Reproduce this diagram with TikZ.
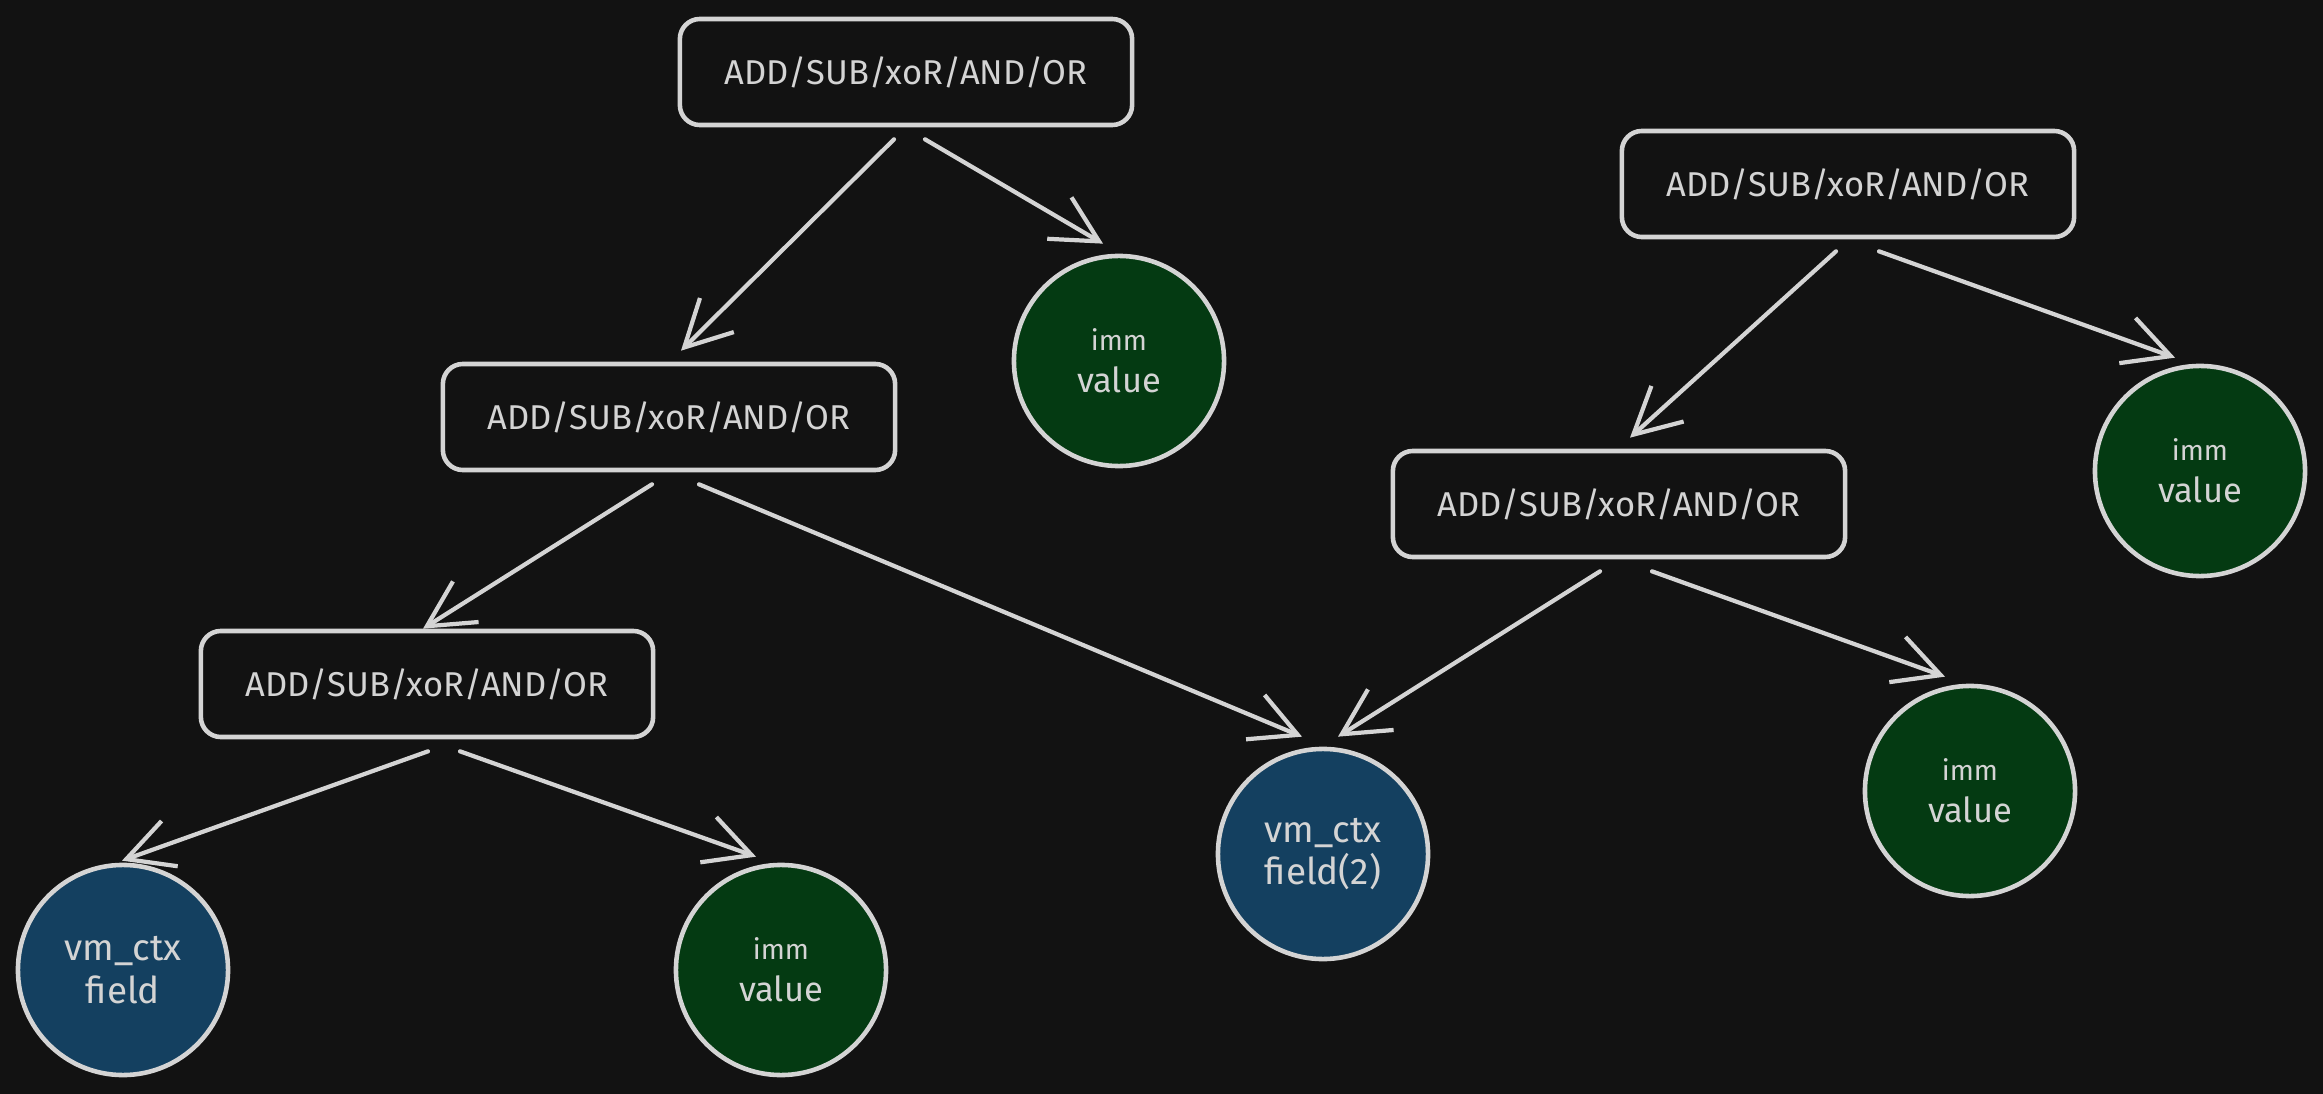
\documentclass[tikz,border=0pt]{standalone}
\usepackage{fontspec}
\setmainfont{Fira Sans}
\usetikzlibrary{arrows.meta,calc}
\definecolor{sfondo}{HTML}{121212}
\definecolor{tratto}{HTML}{D4D4D4}
\definecolor{verde}{HTML}{043A12}
\definecolor{blu}{HTML}{144060}

\begin{document}
\begin{tikzpicture}[x=0.01cm, y=-0.01cm, >={Straight Barb[length=0.46cm,width=0.48cm]},
        operazione/.style={draw=tratto, line width=1.3pt, rounded corners=0.2cm, minimum width=4.52cm, minimum height=1.06cm, inner sep=0pt, text=tratto, font=\fontsize{9.8}{12}\selectfont},
        valore/.style={circle, draw=tratto, fill=verde, line width=1.3pt, minimum size=2.1cm, inner sep=0pt, align=center, text=tratto, font=\fontsize{9.8}{12}\selectfont},
        campo/.style={valore, fill=blu, font=\fontsize{10.5}{12}\selectfont},
        freccia/.style={->, draw=tratto, line width=1.2pt, line cap=round}]
        % Sfondo
        \fill[sfondo] (0,0) rectangle (2323,1094);
        
        % Operazioni
        \node[operazione] (op1) at (906,72) {ADD/SUB/xoR/AND/OR};
        \node[operazione] (op2) at (1848,184) {ADD/SUB/xoR/AND/OR};
        \node[operazione] (op3) at (669,417) {ADD/SUB/xoR/AND/OR};
        \node[operazione] (op4) at (1619,504) {ADD/SUB/xoR/AND/OR};
        \node[operazione] (op5) at (427,684) {ADD/SUB/xoR/AND/OR};
        
        % Operandi
        \node[valore] (imm1) at (1119,361) {{\footnotesize imm}\\value};
        \node[valore] (imm2) at (2200,471) {{\footnotesize imm}\\value};
        \node[valore] (imm3) at (1970,791) {{\footnotesize imm}\\value};
        \node[valore] (imm4) at (781,970) {{\footnotesize imm}\\value};
        \node[campo] (ctx1) at (123,970) {vm\_ctx\\field};
        \node[campo] (ctx2) at (1323,854) {vm\_ctx\\field(2)};
        
        % Frecce
        \draw[freccia] ($(op1.south)+(-12,12)$) -- ($(op3.north)+(12,-11)$);
        \draw[freccia] ($(op1.south)+(19,12)$) -- ($(imm1.north)+(-16,-10)$);
        \draw[freccia] ($(op2.south)+(-12,12)$) -- ($(op4.north)+(11,-11)$);
        \draw[freccia] ($(op2.south)+(31,12)$) -- ($(imm2.north)+(-25,-6)$);
        \draw[freccia] ($(op3.south)+(-17,12)$) -- ($(op5.north)+(-4,0)$);
        \draw[freccia] ($(op3.south)+(30,12)$) -- ($(ctx2.north)+(-21,-10)$);
        \draw[freccia] ($(op4.south)+(-19,12)$) -- ($(ctx2.north)+(15,-10)$);
        \draw[freccia] ($(op4.south)+(33,12)$) -- ($(imm3.north)+(-25,-7)$);
        \draw[freccia] ($(op5.south)+(1,12)$) -- ($(ctx1.north)+(-1,-2)$);
        \draw[freccia] ($(op5.south)+(33,12)$) -- ($(imm4.north)+(-25,-6)$);
    \end{tikzpicture}
\end{document}
